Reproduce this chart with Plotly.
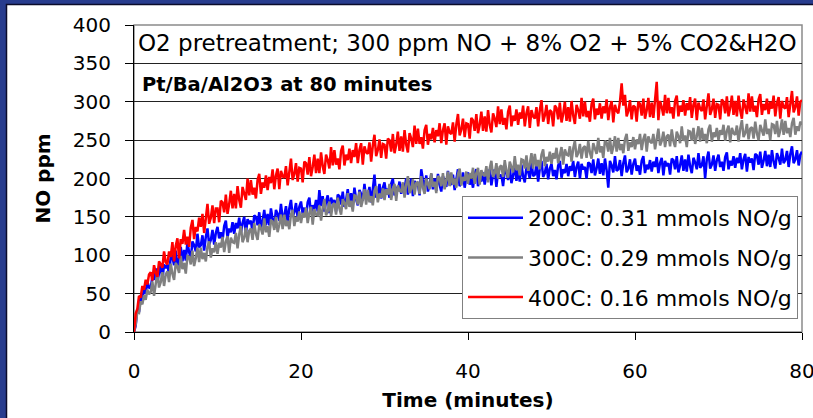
import plotly.graph_objects as go

# ---------------- data ----------------
sample_step_min = 0.2
time_min = [round(i * sample_step_min, 1) for i in range(401)]

no_200c = [
    0, 8, 30, 26, 48, 40, 58, 50, 66, 58,
    57, 72, 68, 83, 65, 80, 89, 68, 88, 83,
    88, 75, 98, 98, 87, 106, 86, 96, 111, 92,
    107, 93, 117, 104, 96, 118, 113, 105, 128, 110,
    113, 126, 106, 124, 135, 114, 120, 133, 114, 129,
    137, 122, 130, 119, 138, 145, 123, 135, 130, 143,
    128, 142, 135, 149, 129, 142, 150, 128, 147, 141,
    145, 130, 152, 150, 139, 156, 136, 145, 159, 139,
    154, 139, 161, 147, 139, 159, 154, 145, 167, 148,
    151, 164, 143, 161, 172, 150, 156, 168, 149, 163,
    170, 154, 162, 150, 169, 175, 154, 165, 160, 172,
    157, 185, 164, 177, 157, 170, 178, 155, 175, 168,
    172, 157, 179, 177, 166, 183, 163, 172, 186, 166,
    181, 165, 188, 173, 165, 185, 180, 171, 193, 174,
    177, 189, 169, 186, 205, 175, 181, 193, 174, 188,
    195, 179, 187, 175, 193, 200, 178, 189, 184, 196,
    180, 193, 187, 200, 179, 193, 200, 177, 197, 190,
    193, 178, 212, 198, 186, 204, 183, 192, 206, 186,
    200, 184, 206, 192, 183, 203, 197, 189, 210, 191,
    193, 205, 185, 202, 212, 190, 195, 208, 188, 202,
    208, 192, 199, 188, 206, 212, 190, 202, 196, 208,
    192, 205, 199, 212, 191, 205, 212, 189, 209, 202,
    205, 190, 211, 210, 198, 215, 194, 204, 217, 197,
    211, 196, 218, 203, 195, 215, 209, 200, 222, 203,
    205, 217, 196, 213, 223, 202, 207, 219, 199, 213,
    219, 203, 211, 199, 217, 223, 201, 212, 207, 219,
    203, 216, 210, 223, 202, 215, 222, 200, 219, 212,
    215, 200, 221, 219, 207, 225, 204, 213, 226, 206,
    220, 204, 226, 211, 188, 223, 217, 208, 229, 210,
    212, 224, 203, 220, 230, 208, 213, 225, 205, 219,
    226, 210, 217, 205, 223, 229, 207, 218, 212, 224,
    209, 222, 215, 228, 207, 220, 227, 204, 223, 216,
    220, 205, 226, 224, 212, 229, 208, 217, 230, 210,
    225, 209, 231, 216, 207, 227, 221, 212, 233, 214,
    217, 229, 200, 225, 235, 213, 218, 230, 210, 224,
    231, 215, 222, 210, 228, 234, 212, 223, 217, 229,
    214, 227, 220, 233, 212, 225, 232, 209, 228, 221,
    226, 211, 232, 230, 218, 235, 214, 223, 236, 216,
    231, 215, 237, 222, 213, 233, 227, 218, 239, 220,
    224, 236, 215, 232, 242, 220, 225, 237, 217, 231,
    235,
]

no_300c = [
    0, 10, 26, 25, 40, 36, 48, 42, 55, 49,
    52, 66, 47, 66, 78, 58, 65, 78, 60, 75,
    79, 65, 89, 76, 68, 90, 85, 77, 99, 82,
    90, 76, 99, 98, 88, 106, 86, 96, 110, 91,
    110, 95, 103, 92, 111, 118, 97, 109, 104, 117,
    102, 116, 110, 124, 104, 118, 125, 103, 123, 117,
    116, 129, 109, 127, 138, 117, 123, 136, 117, 132,
    135, 120, 142, 128, 120, 140, 135, 127, 148, 130,
    138, 124, 145, 144, 133, 150, 130, 140, 153, 134,
    153, 138, 145, 134, 153, 159, 138, 150, 144, 157,
    142, 155, 149, 162, 142, 155, 163, 140, 160, 153,
    152, 165, 145, 162, 173, 152, 157, 170, 151, 165,
    168, 153, 175, 161, 153, 173, 168, 160, 181, 163,
    171, 157, 178, 177, 166, 183, 163, 172, 186, 166,
    185, 169, 177, 165, 184, 190, 169, 180, 175, 187,
    172, 186, 179, 193, 172, 186, 193, 171, 191, 184,
    183, 195, 175, 192, 203, 181, 186, 199, 179, 194,
    196, 180, 203, 188, 180, 200, 194, 186, 207, 189,
    196, 181, 203, 201, 190, 207, 186, 196, 209, 190,
    208, 192, 200, 188, 206, 213, 191, 202, 197, 209,
    193, 207, 200, 214, 193, 207, 214, 192, 211, 205,
    203, 216, 195, 213, 223, 202, 207, 220, 200, 215,
    217, 202, 224, 210, 201, 222, 216, 208, 229, 211,
    218, 204, 225, 224, 213, 230, 210, 219, 233, 213,
    232, 216, 224, 212, 231, 238, 216, 228, 222, 235,
    219, 233, 226, 240, 220, 233, 241, 218, 238, 231,
    230, 242, 222, 239, 249, 228, 233, 245, 226, 240,
    242, 227, 249, 234, 226, 246, 240, 232, 253, 234,
    242, 227, 249, 247, 235, 253, 232, 241, 255, 235,
    253, 237, 245, 233, 251, 258, 236, 247, 241, 254,
    238, 251, 245, 258, 237, 251, 258, 235, 255, 248,
    246, 258, 238, 255, 265, 243, 249, 261, 241, 255,
    257, 242, 264, 249, 241, 261, 255, 246, 268, 249,
    256, 241, 262, 261, 249, 266, 245, 255, 268, 248,
    266, 250, 258, 246, 264, 270, 248, 260, 254, 266,
    250, 263, 257, 270, 249, 262, 269, 247, 266, 259,
    257, 269, 248, 265, 276, 254, 259, 271, 251, 265,
    267, 252, 274, 259, 250, 270, 264, 256, 277, 258,
    265, 250, 271, 270, 258, 275, 254, 263, 277, 257,
    275, 259, 266, 254, 272, 279, 257, 268, 262, 274,
    270,
]

no_400c = [
    0, 24, 30, 47, 45, 60, 55, 68, 62, 75,
    78, 67, 87, 77, 72, 92, 88, 84, 105, 91,
    88, 105, 98, 117, 92, 112, 122, 96, 121, 115,
    133, 114, 124, 111, 136, 146, 121, 137, 131, 149,
    137, 154, 129, 152, 167, 141, 149, 165, 142, 161,
    161, 143, 171, 169, 156, 179, 154, 167, 184, 161,
    180, 161, 190, 172, 162, 189, 182, 172, 200, 178,
    198, 179, 188, 174, 198, 206, 180, 195, 188, 204,
    185, 202, 194, 212, 186, 204, 213, 186, 210, 203,
    201, 216, 191, 212, 226, 198, 206, 220, 196, 214,
    213, 195, 222, 220, 205, 228, 203, 215, 231, 207,
    226, 207, 234, 216, 206, 231, 224, 213, 241, 217,
    237, 218, 226, 212, 236, 243, 217, 231, 224, 239,
    220, 237, 228, 246, 220, 237, 246, 218, 242, 234,
    232, 247, 222, 243, 257, 229, 237, 251, 227, 245,
    244, 226, 252, 250, 235, 258, 233, 244, 261, 236,
    255, 235, 263, 244, 234, 259, 252, 241, 269, 245,
    265, 245, 254, 239, 263, 270, 244, 258, 251, 266,
    247, 263, 255, 272, 246, 263, 272, 244, 268, 260,
    258, 273, 248, 270, 284, 256, 264, 278, 254, 272,
    271, 252, 279, 276, 262, 284, 259, 270, 287, 262,
    281, 261, 289, 270, 260, 285, 278, 267, 294, 271,
    290, 270, 279, 264, 287, 295, 268, 282, 275, 290,
    270, 286, 278, 295, 268, 285, 294, 266, 289, 281,
    278, 293, 268, 289, 302, 274, 282, 296, 271, 289,
    287, 268, 295, 292, 277, 299, 273, 284, 300, 275,
    293, 274, 301, 282, 271, 296, 289, 278, 305, 281,
    300, 280, 288, 274, 297, 304, 277, 291, 283, 298,
    278, 294, 285, 303, 276, 293, 301, 273, 296, 288,
    285, 300, 324, 295, 309, 281, 288, 302, 277, 295,
    293, 274, 300, 297, 282, 304, 278, 289, 305, 280,
    299, 279, 306, 326, 276, 301, 293, 282, 309, 285,
    305, 285, 293, 278, 301, 308, 281, 295, 287, 302,
    282, 298, 289, 306, 279, 296, 304, 276, 299, 291,
    288, 303, 277, 298, 311, 283, 290, 304, 279, 297,
    296, 277, 303, 300, 285, 307, 281, 292, 308, 283,
    301, 281, 308, 289, 278, 303, 295, 284, 311, 287,
    307, 287, 295, 280, 303, 310, 283, 297, 289, 304,
    284, 300, 291, 308, 281, 298, 306, 278, 301, 293,
    291, 306, 280, 301, 314, 286, 293, 307, 282, 300,
    302,
]

series_names = [
    "200C: 0.31 mmols NO/g",
    "300C: 0.29 mmols NO/g",
    "400C: 0.16 mmols NO/g",
]
series_values = [no_200c, no_300c, no_400c]
series_colors = ["#0000ff", "#808080", "#ff0000"]

x_ticks = [0, 20, 40, 60, 80]
y_ticks = [0, 50, 100, 150, 200, 250, 300, 350, 400]

title_line1 = "O2 pretreatment; 300 ppm NO + 8% O2 + 5% CO2&H2O"
title_line2 = "Pt/Ba/Al2O3 at 80 minutes"

# ---------------- figure ----------------
FONT = "DejaVu Sans"
W, H = 813, 418
L, R, T, B = 134, 11, 25, 86
pw, ph = W - L - R, H - T - B

def px_x(px):
    return (px - L) / pw

def px_y(py):
    return (H - B - py) / ph

fig = go.Figure()
for name, vals, col in zip(series_names, series_values, series_colors):
    fig.add_trace(go.Scatter(
        x=time_min, y=vals, mode="lines", name=name, legendgroup=name,
        line=dict(color=col, width=2.5),
    ))

fig.update_layout(
    width=W, height=H,
    margin=dict(l=L, r=R, t=T, b=B, pad=0, autoexpand=False),
    paper_bgcolor="#283c8e",
    plot_bgcolor="rgba(0,0,0,0)",
    font=dict(family=FONT, color="black", size=20),
    showlegend=True,
    legend=dict(
        x=px_x(462), y=px_y(196), xanchor="left", yanchor="top",
        bgcolor="white", bordercolor="#808080", borderwidth=1,
        font=dict(family=FONT, size=22, color="black"),
        traceorder="grouped", tracegroupgap=8, itemwidth=55,
    ),
    xaxis=dict(
        range=[0, 80], tickvals=x_ticks, ticks="outside", ticklen=7,
        tickcolor="black", showline=True, linecolor="black", linewidth=1,
        showgrid=False, zeroline=False, ticklabelstandoff=14,
        ticklabeloverflow="allow", automargin=False,
        tickfont=dict(family=FONT, size=20),
        title=dict(text="<b>Time (minutes)</b>", standoff=10,
                   font=dict(family=FONT, size=20)),
    ),
    yaxis=dict(
        range=[0, 400], tickvals=y_ticks, ticks="outside", ticklen=8,
        tickcolor="black", showline=True, linecolor="black", linewidth=1,
        showgrid=True, gridcolor="#222222", gridwidth=1, zeroline=False,
        ticklabelstandoff=10, automargin=False,
        tickfont=dict(family=FONT, size=20),
        title=dict(text="<b>NO ppm</b>", standoff=16,
                   font=dict(family=FONT, size=20)),
    ),
    shapes=[
        dict(type="rect", xref="paper", yref="paper", layer="below",
             x0=px_x(6.5), x1=px_x(W + 2), y0=px_y(H + 2), y1=px_y(4.5),
             fillcolor="white", line=dict(color="#0b0b2a", width=1.5)),
        dict(type="rect", xref="paper", yref="paper", layer="below",
             x0=0, x1=1, y0=0, y1=1,
             fillcolor="rgba(0,0,0,0)", line=dict(color="#8a8a8a", width=1.5)),
    ],
    annotations=[
        dict(text=title_line1, xref="paper", yref="paper",
             x=px_x(136), y=px_y(43), xanchor="left", yanchor="middle",
             showarrow=False, font=dict(family=FONT, size=23, color="black")),
        dict(text="<b>" + title_line2 + "</b>", xref="paper", yref="paper",
             x=px_x(140), y=px_y(84), xanchor="left", yanchor="middle",
             showarrow=False, font=dict(family=FONT, size=19.5, color="black")),
    ],
)

fig.write_html("out.html")
